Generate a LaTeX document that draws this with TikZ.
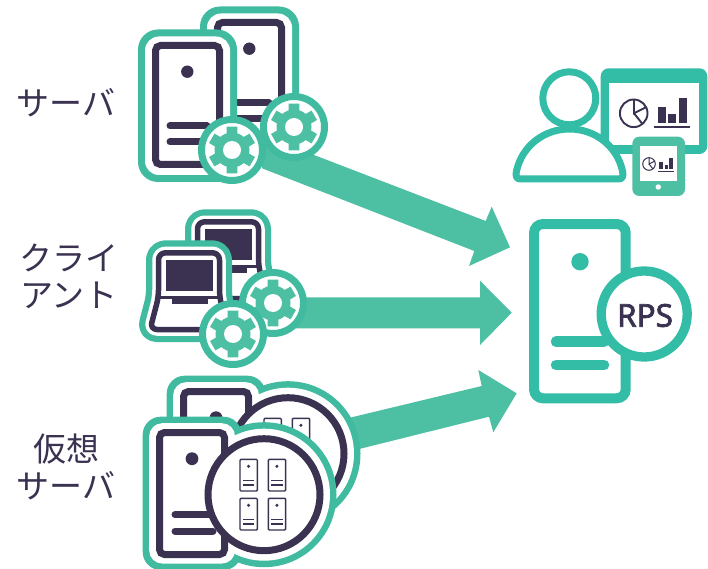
\documentclass[tikz,border=0pt]{standalone}
\usepackage{fontspec}
\newfontfamily\jpfont{Noto Sans CJK JP}
\newfontfamily\rpsfont[FakeBold=2.2]{Noto Sans}
\definecolor{ringteal}{HTML}{40BBA0}
\definecolor{arrowteal}{HTML}{4DBFA3}
\definecolor{rpsteal}{HTML}{33BDA6}
\definecolor{inkdark}{HTML}{3A3250}
\tikzset{
  blockarrow/.style={fill=arrowteal,draw=none},
  inkline/.style={draw=inkdark,line width=7pt,line cap=round},
  rpsline/.style={draw=rpsteal,line width=10.5pt,line cap=round},
  label text/.style={font=\jpfont\fontsize{33}{37.5}\selectfont,text=inkdark,align=center,inner sep=0pt},
}
\newcommand{\geargroup}[2]{%
  \begin{scope}[shift={(#1,#2)}]
    \draw[ringteal,line width=7pt,fill=white] (0,0) circle (30.5);
    \fill[arrowteal] (0,0) circle (17.5);
    \foreach \a in {30,90,...,330}{
      \fill[arrowteal] (\a-20:16) -- (\a-13:24) -- (\a+13:24) -- (\a+20:16) -- cycle;
    }
    \fill[white] (0,0) circle (9);
  \end{scope}}
\newcommand{\servericon}[2]{%
  \begin{scope}[shift={(#1,#2)}]
    \fill[ringteal,rounded corners=20] (138,29.5) rectangle (237,182);
    \fill[white,rounded corners=14] (145,36.5) rectangle (230,175);
    \draw[draw=inkdark,line width=7pt,rounded corners=5] (155.5,45.5) rectangle (219.5,164.5);
    \fill[inkdark] (187.3,71.7) circle (6.2);
    \draw[inkline] (170,126) -- (207,126);
    \draw[inkline] (170,142) -- (207,142);
  \end{scope}}
\newcommand{\laptopframe}{[rounded corners=7] (158.5,252.8) -- (219.5,252.8) -- (219.5,297) -- (228,329.5) -- (150,329.5) -- (158.5,297) -- cycle}
\newcommand{\laptopicon}[2]{%
  \begin{scope}[shift={(#1,#2)},line join=round]
    \draw[ringteal,line width=25pt,fill=ringteal] \laptopframe;
    \draw[white,line width=12.5pt,fill=white] \laptopframe;
    \draw[inkdark,line width=5.5pt] \laptopframe;
    \fill[inkdark] (166,260) rectangle (212.7,291);
    \fill[inkdark] (158,296) rectangle (220,299);
    \fill[inkdark] (171.7,296) rectangle (207.7,304);
  \end{scope}}
\newcommand{\miniserver}[2]{%
  \begin{scope}[shift={(#1,#2)}]
    \draw[inkdark,line width=1.4pt,rounded corners=1,fill=white] (0,0) rectangle (17.3,31.7);
    \fill[inkdark] (8.6,7) circle (1.7);
    \draw[inkdark,line width=1.3pt] (3,21) -- (14.3,21);
    \draw[inkdark,line width=1.3pt] (3,25.7) -- (14.3,25.7);
  \end{scope}}
\newcommand{\virtualicon}[2]{%
  \begin{scope}[shift={(#1,#2)}]
    \fill[ringteal,rounded corners=18] (142.7,416.7) rectangle (241.5,570);
    \fill[ringteal] (264,494.7) circle (72.5);
    \fill[white,rounded corners=13] (149.2,423.2) rectangle (235,563.5);
    \fill[white] (264,494.7) circle (66);
    \draw[draw=inkdark,line width=7pt,rounded corners=5] (159.5,432.5) rectangle (224.5,554.5);
    \fill[inkdark] (192,458.7) circle (6.4);
    \draw[inkline] (175,514.7) -- (213,514.7);
    \draw[inkline] (175,531) -- (213,531);
    \draw[inkdark,line width=7pt,fill=white] (264,494.7) circle (56);
    \miniserver{240}{459.3}\miniserver{268.3}{459.3}
    \miniserver{240}{498.3}\miniserver{268.3}{498.3}
  \end{scope}}
\begin{document}
\begin{tikzpicture}[x=1pt,y=-1pt]
\useasboundingbox (0,0) rectangle (708,569);
\fill[white] (0,0) rectangle (708,569);

% labels
\node[label text] (lblserver) at (66,103) {サーバ};
\node[label text] (lblclient) at (69,276.5) {クライ\\アント};
\node[label text] (lblvirtual) at (66,467) {仮想\\サーバ};

% server group
\servericon{62}{-23}
\servericon{0}{0}
\fill[blockarrow] (262,135) -- (485.7,221) -- (491.7,206.7) -- (510,247.3) -- (469,266) -- (474.3,251) -- (262,168.3) -- cycle;
\geargroup{294}{127}
\geargroup{232}{150}

% client group
\laptopicon{39}{-31}
\laptopicon{0}{0}
\fill[blockarrow] (285,297.3) -- (480,297.3) -- (480,280.7) -- (511.7,312.7) -- (480,345) -- (480,328.3) -- (285,328.3) -- cycle;
\geargroup{273}{303}
\geargroup{233}{334}

% virtual group
\fill[blockarrow] (340,420.1) -- (481.7,386) -- (478.3,370) -- (516.7,393.3) -- (493.3,432.3) -- (489,416.7) -- (345,452.5) -- cycle;
\virtualicon{24}{-41}
\virtualicon{0}{0}

% RPS server
\draw[rpsteal,line width=10pt,rounded corners=9,fill=white] (534,224) rectangle (625.7,398.3);
\fill[rpsteal] (580,261.7) circle (8.7);
\draw[rpsline] (556,341.7) -- (604,341.7);
\draw[rpsline] (556,365) -- (604,365);
\draw[rpsteal,line width=9.3pt,fill=white] (644.2,314) circle (43);
\node[font=\rpsfont\fontsize{31.5}{31.5}\selectfont,text=inkdark,inner sep=0pt] (rpslabel) at (645,315.5) {RPS};

% monitor
\fill[rpsteal,rounded corners=8] (600.7,68.3) rectangle (707.3,154);
\fill[white] (609.3,83.3) rectangle (699.3,145);
\draw[inkdark,line width=1.9pt] (633.7,113.3) circle (13.8);
\draw[inkdark,line width=1.9pt] (634,99.5) -- (634,113.3) -- (646.5,107);
\draw[inkdark,line width=1.9pt] (634,113.3) -- (642.5,124);
\fill[inkdark] (658.3,106.7) rectangle (666,123.3);
\fill[inkdark] (668.3,114.3) rectangle (675.7,123.3);
\fill[inkdark] (679,98.3) rectangle (686.7,123.3);
\draw[inkdark,line width=1.4pt] (654.3,127) -- (690,127);

% person
\draw[rpsteal,line width=7pt,fill=white,line join=round] (520,179) .. controls (516,179) and (515.5,175) .. (516.5,171) .. controls (522,146) and (544,129) .. (569.5,129) .. controls (595,129) and (617,146) .. (622.5,171) .. controls (623.5,175) and (623,179) .. (619,179) -- cycle;
\draw[rpsteal,line width=7pt,fill=white] (569.3,98.3) circle (26.5);

% tablet
\fill[arrowteal,rounded corners=7] (632.3,136.7) rectangle (685,196);
\fill[white] (639.7,146) rectangle (677,181.3);
\fill[white] (658.3,187) circle (2.7);
\draw[inkdark,line width=1pt] (649,164) circle (6.3);
\draw[inkdark,line width=1pt] (649,157.7) -- (649,164) -- (655,161);
\draw[inkdark,line width=1pt] (649,164) -- (653,169);
\fill[inkdark] (659.3,162.3) rectangle (663.3,169);
\fill[inkdark] (665,165.3) rectangle (668.3,169);
\fill[inkdark] (669.3,158.3) rectangle (672.7,169);
\draw[inkdark,line width=.8pt] (657.7,171) -- (674,171);
\end{tikzpicture}
\end{document}
